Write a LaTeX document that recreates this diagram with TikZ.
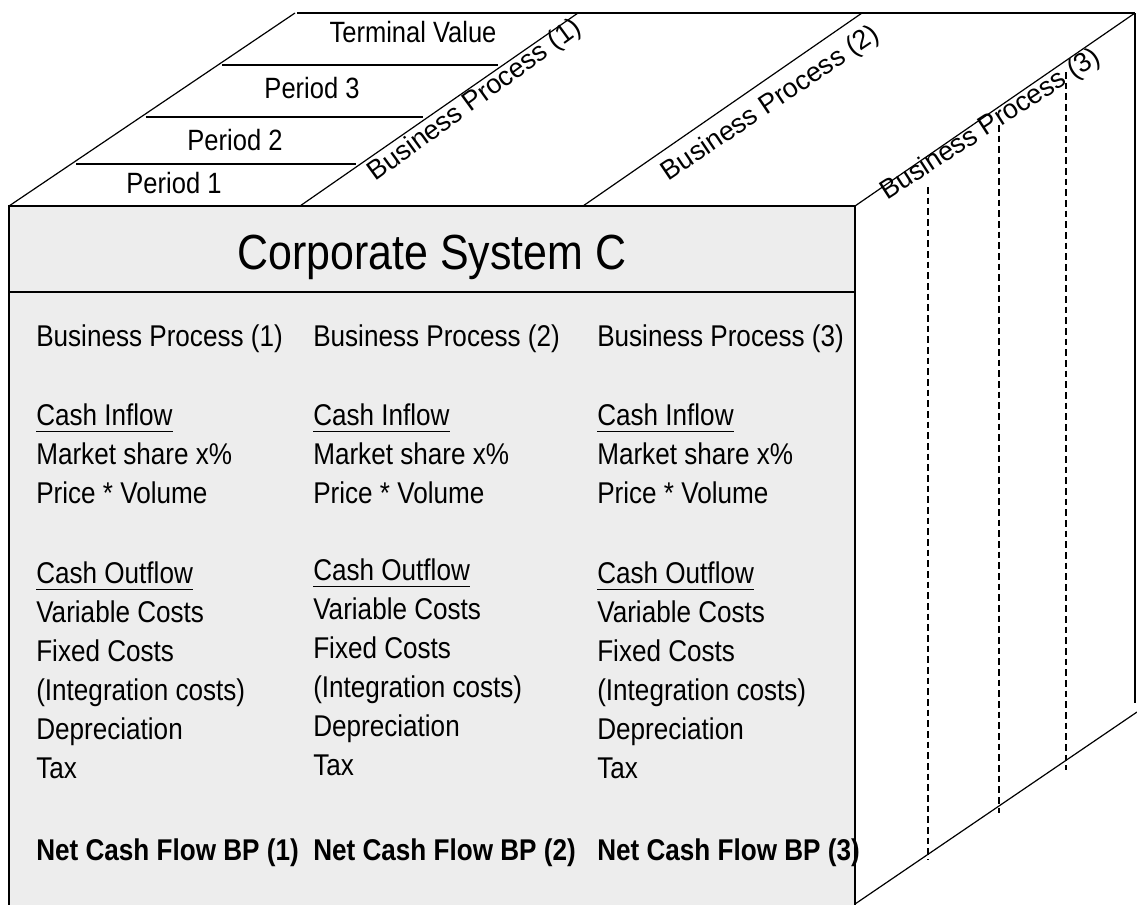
\documentclass[tikz,border=0pt]{standalone}
\usepackage{fontspec}
\setmainfont{Liberation Sans}[FakeStretch=0.87]
\newfontfamily\plainsans{Liberation Sans}
\usetikzlibrary{calc}
\definecolor{frontgray}{RGB}{237,237,237}
\begin{document}
\begin{tikzpicture}[x=0.75pt,y=-0.75pt,
  txt/.style={inner sep=0pt, anchor=base west, font=\fontsize{22.5}{26}\selectfont},
  btxt/.style={txt, font=\fontsize{22.5}{26}\selectfont\bfseries},
  toptxt/.style={inner sep=0pt, anchor=base, font=\fontsize{22}{26}\selectfont},
  rottxt/.style={inner sep=0pt, font=\plainsans\fontsize{20.3}{24}\selectfont},
  edge/.style={line width=1.1pt},
  diag/.style={line width=0.9pt},
  uline/.style={line width=1.3pt},
  dashline/.style={line width=1pt, dash pattern=on 5pt off 3pt},
  frontbox/.style={draw, line width=1.5pt}]
\useasboundingbox (0,0) rectangle (1137,904);
\clip (0,0) rectangle (1137,904);
% corner coordinates
\coordinate (fl) at (9,206);
\coordinate (f1) at (300,206);
\coordinate (f2) at (583,206);
\coordinate (fr) at (855,206);
\coordinate (bl) at (295,13);
\coordinate (b1) at (578,13);
\coordinate (b2) at (862,13);
\coordinate (br) at (1135,13);
\coordinate (fbr) at (855,904);
\coordinate (bbr) at (1137,712);
\coordinate (bvr) at (1135,703);
% front face fill
\fill[frontgray] (9,206) rectangle (855,910);
% top face
\draw[diag] (fl) -- (bl);
\draw[diag] (f1) -- (b1);
\draw[diag] (f2) -- (b2);
\draw[diag] (fr) -- (br);
\draw[edge] (297,13) -- (br);
\foreach \t in {0.218,0.461,0.73}{
  \draw[edge, shorten <=3.5pt, shorten >=3.5pt] ($(fl)!\t!(bl)$) -- ($(f1)!\t!(b1)$);
}
\node[toptxt] (p1) at (174,193) {Period 1};
\node[toptxt] (p2) at (235,150) {Period 2};
\node[toptxt] (p3) at (312,98) {Period 3};
\node[toptxt] (tv) at (413,42) {Terminal Value};
\node[rottxt, rotate=36] (rbp1) at (475,101) {Business Process (1)};
\node[rottxt, rotate=34] (rbp2) at (771,104) {Business Process (2)};
% right face
\draw[edge] (br) -- (bvr);
\draw[diag] (fbr) -- (bbr);
\draw[dashline] (928,187) -- (928,860);
\draw[dashline] (999,125) -- (999,813);
\draw[dashline] (1066,72) -- (1066,770);
\node[rottxt, rotate=33] (rbp3) at (991,125) {Business Process (3)};
% front face text
\node[inner sep=0pt, anchor=base, font=\fontsize{37}{42}\selectfont] (title) at (432,269) {Corporate System C};
\foreach \x/\i/\d in {36/1/0, 313/2/-3, 597/3/0}{
  \node[txt] (bp\i) at (\x,346) {Business Process (\i)};
  \node[txt] (ci\i) at (\x,425) {Cash Inflow};
  \draw[uline] ([yshift=-4.8pt]ci\i.base west) -- ([yshift=-4.8pt]ci\i.base east);
  \node[txt] (ms\i) at (\x,464) {Market share x\%};
  \node[txt] (pv\i) at (\x,503) {Price * Volume};
  \node[txt] (co\i) at (\x,583+\d) {Cash Outflow};
  \draw[uline] ([yshift=-4.8pt]co\i.base west) -- ([yshift=-4.8pt]co\i.base east);
  \node[txt] (vc\i) at (\x,622+\d) {Variable Costs};
  \node[txt] (fc\i) at (\x,661+\d) {Fixed Costs};
  \node[txt] (ic\i) at (\x,700+\d) {(Integration costs)};
  \node[txt] (dp\i) at (\x,739+\d) {Depreciation};
  \node[txt] (tx\i) at (\x,778+\d) {Tax};
  \node[btxt] (nc\i) at (\x,860) {Net Cash Flow BP (\i)};
}
% front face border and title band
\draw[frontbox] (9,206) rectangle (855,910);
\draw[edge] (9,292) -- (855,292);
\end{tikzpicture}
\end{document}
